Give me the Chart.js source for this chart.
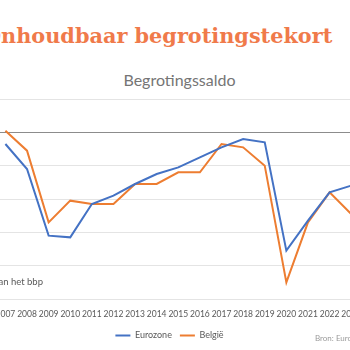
<!DOCTYPE html>
<html lang="nl">
<head>
<meta charset="utf-8">
<title>Onhoudbaar begrotingstekort</title>
<script src="https://cdn.jsdelivr.net/npm/chart.js@4/dist/chart.umd.min.js"></script>
<style>
  html, body { margin: 0; padding: 0; background: #ffffff; }
  body { width: 350px; height: 350px; overflow: hidden; position: relative; }
  .kop { position: absolute; left: -17px; top: 26px; white-space: nowrap;
         font: bold 20.8px/20.8px "DejaVu Serif", serif; color: #F07A4A; }
  .sub { position: absolute; left: 0; width: 359px; top: 72px; text-align: center;
         font: 16px/16px Lato, sans-serif; color: #757575; }
  .eenheid { position: absolute; right: 307px; top: 276.5px; white-space: nowrap;
             font: 9.5px/10px Lato, sans-serif; color: #595959; }
  .bron { position: absolute; left: 315px; top: 334px; white-space: nowrap;
          font: 8px/8px Lato, sans-serif; color: #9a9a9a; }
  #wrap { position: absolute; left: -23px; top: 0; width: 385px; height: 350px; }
</style>
</head>
<body>
<div class="kop">Onhoudbaar begrotingstekort</div>
<div class="sub">Begrotingssaldo</div>
<div id="wrap"><canvas id="grafiek"></canvas></div>
<div class="eenheid">% van het bbp</div>
<div class="bron">Bron: Eurostat</div>
<script>
// Begrotingssaldo in % van het bbp
const jaren = ['2007', '2008', '2009', '2010', '2011', '2012', '2013', '2014', '2015',
               '2016', '2017', '2018', '2019', '2020', '2021', '2022', '2023'];
const eurozone = [-0.7, -2.2, -6.2, -6.3, -4.3, -3.8, -3.1, -2.5, -2.1,
                  -1.5, -0.9, -0.4, -0.6, -7.1, -5.3, -3.6, -3.2];
const belgie = [0.1, -1.1, -5.4, -4.1, -4.3, -4.3, -3.1, -3.1, -2.4,
                -2.4, -0.7, -0.9, -2.0, -9.0, -5.4, -3.6, -4.9];
const yMin = -10;
const yMax = 2;
const yStap = 2;

const BLAUW = '#4472C4';
const ORANJE = '#ED7D31';
const LABEL = '#595959';

new Chart(document.getElementById('grafiek'), {
  type: 'line',
  data: {
    labels: jaren,
    datasets: [
      { label: 'Eurozone', data: eurozone, borderColor: BLAUW, backgroundColor: BLAUW },
      { label: 'België', data: belgie, borderColor: ORANJE, backgroundColor: ORANJE }
    ]
  },
  options: {
    responsive: true,
    maintainAspectRatio: false,
    animation: false,
    elements: {
      line: { borderWidth: 2, tension: 0, fill: false },
      point: { radius: 0, hoverRadius: 0 }
    },
    layout: { padding: { top: 99, left: 0, right: 0, bottom: 0 } },
    scales: {
      x: {
        type: 'category',
        offset: true,
        // no vertical grid lines; the tick length only spaces the labels
        grid: { display: false, drawTicks: true, tickLength: 10 },
        border: { display: false },
        ticks: {
          color: LABEL, font: { family: 'Lato', size: 8.5 },
          padding: 0, maxRotation: 0, autoSkip: false
        },
        afterFit: s => { s.height = 24; }
      },
      y: {
        min: yMin,
        max: yMax,
        border: { display: false },
        grid: {
          drawTicks: false,
          lineWidth: 1,
          color: c => (c.tick && c.tick.value === 0 ? '#8c8c8c' : '#e4e4e4')
        },
        ticks: { stepSize: yStap, color: LABEL, font: { family: 'Lato', size: 9 } },
        afterFit: s => { s.width = 17.6; }
      }
    },
    plugins: {
      title: { display: false },
      tooltip: { enabled: false },
      legend: {
        position: 'bottom',
        labels: {
          color: LABEL,
          font: { family: 'Lato', size: 9 },
          boxWidth: 15,
          boxHeight: 2,
          padding: 8,
          generateLabels: chart => chart.data.datasets.map((ds, i) => ({
            text: ds.label,
            fillStyle: ds.borderColor,
            strokeStyle: ds.borderColor,
            lineWidth: 0,
            fontColor: LABEL,
            hidden: false,
            datasetIndex: i
          }))
        }
      }
    }
  }
});
</script>
</body>
</html>
